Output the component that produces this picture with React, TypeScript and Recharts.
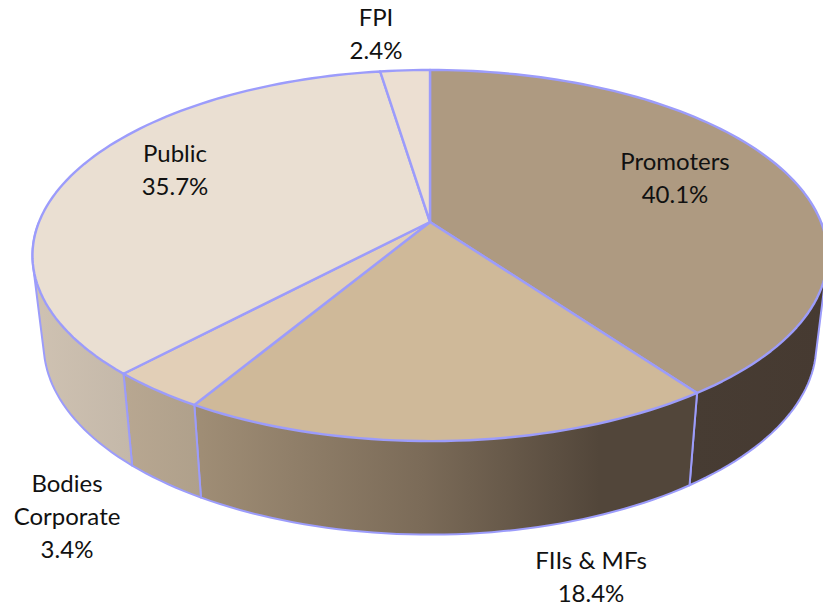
import { PieChart, Pie, Cell } from "recharts";

const categories = ["Promoters", "FIIs & MFs", "Bodies Corporate", "Public", "FPI"];
const shares = [40.1, 18.4, 3.4, 35.7, 2.4];

const topColors = ["#ae9a81", "#cfb999", "#e2cfb7", "#eadfd2", "#ecdfd2"];
const wallFills = ["url(#wallPromoters)", "url(#wallFiis)", "url(#wallBodies)", "url(#wallPublic)", "#cfc2b2"];

// label centres (x) and first baselines (y), same order as categories
const labelSpots = [
  { x: 675, y: 170, lines: ["Promoters"] },
  { x: 591, y: 569, lines: ["FIIs & MFs"] },
  { x: 67, y: 492, lines: ["Bodies", "Corporate"] },
  { x: 175, y: 162, lines: ["Public"] },
  { x: 376, y: 26, lines: ["FPI"] },
];

const chartData = categories.map((name, i) => ({ name, value: shares[i] }));

const EDGE = "#9c9cfb";
const CX = 430;
const CY = 222;

// perspective view of the pie disc, angle in recharts degrees
const project = (deg: number, lower: boolean): [number, number] => {
  const rad = (deg * Math.PI) / 180;
  const u = Math.cos(rad);
  const v = Math.sin(rad);
  const w = 1 + 0.1807 * v;
  if (lower) return [CX + (380 * u) / w, 310 - (184 * v) / w];
  return [CX + (391 * u) / w, CY - (179.5 * v) / w];
};

const arcPoints = (start: number, end: number, lower: boolean) => {
  const steps = Math.max(2, Math.ceil(Math.abs(end - start) / 1.5));
  const pts: [number, number][] = [];
  for (let i = 0; i <= steps; i++) pts.push(project(start + ((end - start) * i) / steps, lower));
  return pts;
};

const toPath = (pts: [number, number][]) =>
  "M" + pts.map((p) => p[0].toFixed(2) + "," + p[1].toFixed(2)).join("L") + "Z";

const convexHull = (input: [number, number][]) => {
  const pts = [...input].sort((a, b) => a[0] - b[0] || a[1] - b[1]);
  const cross = (o: number[], a: number[], b: number[]) =>
    (a[0] - o[0]) * (b[1] - o[1]) - (a[1] - o[1]) * (b[0] - o[0]);
  const half = (list: [number, number][]) => {
    const out: [number, number][] = [];
    for (const p of list) {
      while (out.length > 1 && cross(out[out.length - 2], out[out.length - 1], p) <= 0) out.pop();
      out.push(p);
    }
    out.pop();
    return out;
  };
  return [...half(pts), ...half([...pts].reverse())];
};

const TopSlice = (props: any) => {
  const pts = [[CX, CY] as [number, number], ...arcPoints(props.startAngle, props.endAngle, false)];
  return <path d={toPath(pts)} fill={props.fill} stroke={EDGE} strokeWidth={2.4} strokeLinejoin="round" />;
};

// only the front half of the rim is ever seen (angles 0 to -180)
const WallSlice = (props: any) => {
  const start = Math.min(props.startAngle, 0);
  const end = Math.max(props.endAngle, -180);
  if (start <= end) return null;
  const pts = [...arcPoints(start, end, false), ...arcPoints(start, end, true)];
  return <path d={toPath(convexHull(pts))} fill={props.fill} stroke={EDGE} strokeWidth={2} strokeLinejoin="round" />;
};

const renderLabel = (props: any) => {
  const spot = labelSpots[props.index];
  return (
    <text textAnchor="middle" fill="#111" fontFamily="Lato" fontSize={24}>
      {spot.lines.map((line, i) => (
        <tspan key={line} x={spot.x} y={spot.y + i * 33}>
          {line}
        </tspan>
      ))}
      <tspan x={spot.x} y={spot.y + spot.lines.length * 33}>
        {shares[props.index].toFixed(1)}%
      </tspan>
    </text>
  );
};

export default function App() {
  return (
    <div style={{ position: "absolute", left: 0, top: 0, width: 823, height: 607, overflow: "hidden" }}>
      <PieChart width={823} height={607} margin={{ top: 0, right: 0, bottom: 0, left: 0 }}>
        <defs>
          <linearGradient id="wallPromoters" gradientUnits="userSpaceOnUse" x1="690" y1="0" x2="825" y2="0">
            <stop offset="0" stopColor="#473c33" />
            <stop offset="1" stopColor="#463a31" />
          </linearGradient>
          <linearGradient id="wallFiis" gradientUnits="userSpaceOnUse" x1="195" y1="0" x2="700" y2="0">
            <stop offset="0" stopColor="#a08e76" />
            <stop offset="0.45" stopColor="#7b6b58" />
            <stop offset="0.8" stopColor="#52463a" />
            <stop offset="1" stopColor="#52463a" />
          </linearGradient>
          <linearGradient id="wallBodies" gradientUnits="userSpaceOnUse" x1="123" y1="0" x2="202" y2="0">
            <stop offset="0" stopColor="#b8a791" />
            <stop offset="1" stopColor="#afa08b" />
          </linearGradient>
          <linearGradient id="wallPublic" gradientUnits="userSpaceOnUse" x1="32" y1="0" x2="131" y2="0">
            <stop offset="0" stopColor="#cfc2b2" />
            <stop offset="1" stopColor="#c4b8a9" />
          </linearGradient>
        </defs>
        <Pie
          data={chartData}
          dataKey="value"
          nameKey="name"
          cx={CX}
          cy={CY}
          outerRadius={391}
          startAngle={90}
          endAngle={-270}
          shape={WallSlice}
          isAnimationActive={false}
        >
          {chartData.map((d, i) => (
            <Cell key={d.name} fill={wallFills[i]} />
          ))}
        </Pie>
        <Pie
          data={chartData}
          dataKey="value"
          nameKey="name"
          cx={CX}
          cy={CY}
          outerRadius={391}
          startAngle={90}
          endAngle={-270}
          shape={TopSlice}
          label={renderLabel}
          labelLine={false}
          isAnimationActive={false}
        >
          {chartData.map((d, i) => (
            <Cell key={d.name} fill={topColors[i]} />
          ))}
        </Pie>
      </PieChart>
    </div>
  );
}
